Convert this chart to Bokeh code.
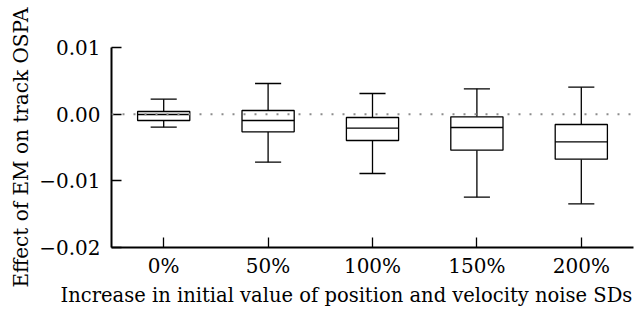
import numpy as np
from bokeh.plotting import figure
from bokeh.models import Range1d, FixedTicker, CustomJSTickFormatter, Span, Title
from bokeh.embed import file_html
from bokeh.resources import INLINE

categories = ["0%", "50%", "100%", "150%", "200%"]
whisk_lo = [-0.00195, -0.0072, -0.0089, -0.01245, -0.01345]
q1 = [-0.00095, -0.00265, -0.00395, -0.0054, -0.00675]
median = [-0.00005, -0.00095, -0.0021, -0.0020, -0.00415]
q3 = [0.0004, 0.00055, -0.0005, -0.0004, -0.00155]
whisk_hi = [0.00225, 0.0046, 0.0031, 0.0038, 0.00405]
y_ticks = [-0.02, -0.01, 0.0, 0.01]
x_title = "Increase in initial value of position and velocity noise SDs"
y_title = "Effect of EM on track OSPA"

FONT = "DejaVu Serif"
xs = np.arange(1, len(categories) + 1)
box_w = 0.5
cap_w = 0.25
x_lo, x_hi = 0.5, len(categories) + 0.5
y_lo, y_hi = -0.02, 0.01
FW, FH, BL, BT = 522, 200, 111, 47

p = figure(frame_width=FW, frame_height=FH, output_backend="svg", toolbar_location=None,
           x_range=Range1d(x_lo, x_hi), y_range=Range1d(y_lo, y_hi),
           min_border_left=BL, min_border_right=5, min_border_top=BT, min_border_bottom=0)
p.outline_line_color = None
p.xgrid.visible = False
p.ygrid.visible = False
p.background_fill_color = "white"

p.add_layout(Span(location=0, dimension="width", line_color="#8c8c8c",
                  line_width=2, line_dash="2 9"))

lw = 1.3
p.segment(x0=xs, x1=xs, y0=whisk_lo, y1=q1, line_color="black", line_width=lw)
p.segment(x0=xs, x1=xs, y0=q3, y1=whisk_hi, line_color="black", line_width=lw)
p.segment(x0=xs - cap_w / 2, x1=xs + cap_w / 2, y0=whisk_lo, y1=whisk_lo, line_color="black", line_width=lw)
p.segment(x0=xs - cap_w / 2, x1=xs + cap_w / 2, y0=whisk_hi, y1=whisk_hi, line_color="black", line_width=lw)
p.quad(left=xs - box_w / 2, right=xs + box_w / 2, bottom=q1, top=q3,
       fill_color="white", line_color="black", line_width=lw)
p.segment(x0=xs - box_w / 2, x1=xs + box_w / 2, y0=median, y1=median, line_color="black", line_width=lw)

for ax in (p.xaxis[0], p.yaxis[0]):
    ax.axis_line_width = 2
    ax.axis_line_color = "black"
    ax.major_tick_line_color = "black"
    ax.major_tick_line_width = 1.3
    ax.major_tick_in = 10
    ax.major_tick_out = 0
    ax.minor_tick_line_color = None
    ax.major_label_text_font = FONT
    ax.major_label_text_font_size = "20px"
    ax.major_label_text_color = "black"
    ax.axis_label_text_font = FONT
    ax.axis_label_text_font_size = "20px"
    ax.axis_label_text_font_style = "normal"
    ax.axis_label_text_color = "black"

p.xaxis.ticker = FixedTicker(ticks=list(xs))
p.xaxis.formatter = CustomJSTickFormatter(args=dict(labels=categories),
                                          code="return labels[Math.round(tick) - 1];")
p.xaxis.major_label_standoff = 6

p.yaxis.ticker = FixedTicker(ticks=y_ticks)
p.yaxis.formatter = CustomJSTickFormatter(code="return tick.toFixed(2).replace('-', '\u2212');")
p.yaxis.axis_label = y_title
p.yaxis.major_label_standoff = 11
p.yaxis.axis_label_standoff = 3

# x title placed left-aligned, starting at page x=60 (offset relative to frame left)
p.add_layout(Title(text=x_title, align="left", offset=60 - BL, standoff=3,
                   text_font=FONT, text_font_size="19.5px", text_font_style="normal",
                   text_color="black"), "below")

open("out.html", "w").write(file_html(p, INLINE))
